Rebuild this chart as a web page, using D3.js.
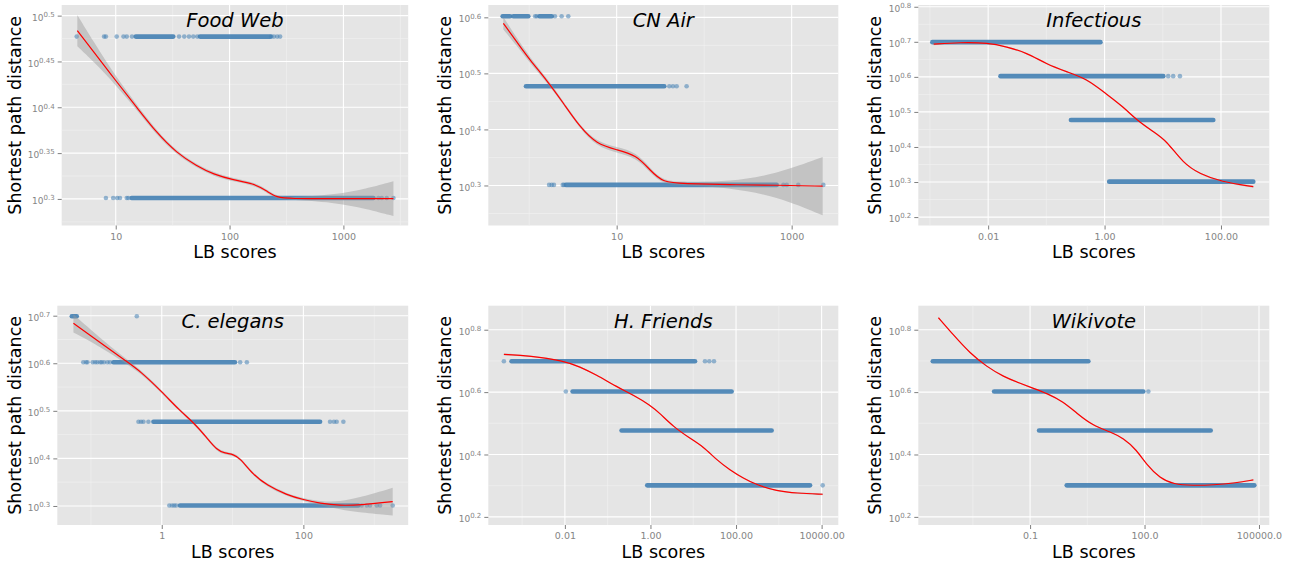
<!DOCTYPE html>
<html>
<head>
<meta charset="utf-8">
<script src="https://cdnjs.cloudflare.com/ajax/libs/d3/7.8.5/d3.min.js"></script>
<style>
  body { margin: 0; background: #fff; }
  svg { display: block; font-family: "DejaVu Sans", sans-serif; }
</style>
</head>
<body>
<svg id="chart"></svg>
<script>
const width = 1300;
const height = 565;

const panelTitles = ["Food Web", "CN Air", "Infectious", "C. elegans", "H. Friends", "Wikivote"];

// axis breaks: LB scores on x, exponent of 10 on y
const xTicks = [[10, 100, 1000], [10, 1000], [0.01, 1, 100], [1, 100], [0.01, 1, 100, 10000], [0.1, 100, 100000]];
const xTickDigits = [0, 0, 2, 0, 2, 1];
const yTicks = [
  [0.3, 0.35, 0.4, 0.45, 0.5],
  [0.3, 0.4, 0.5, 0.6],
  [0.2, 0.3, 0.4, 0.5, 0.6, 0.7, 0.8],
  [0.3, 0.4, 0.5, 0.6, 0.7],
  [0.2, 0.4, 0.6, 0.8],
  [0.2, 0.4, 0.6, 0.8]
];
// visible ranges, as log10 of the value
const xRanges = [[0.5255, 3.569], [-0.467, 3.533], [-3.2, 2.83], [-1.475, 3.48], [-3.79, 4.39], [-3.93, 5.27]];
const yRanges = [[0.271, 0.5116], [0.2286, 0.622], [0.176, 0.805], [0.26, 0.721], [0.174, 0.877], [0.174, 0.877]];

// dense runs of points: [distance, first LB score, last LB score]; single points: [distance, LB score]
const foodWebRuns = [[3, 15, 32], [3, 55, 228], [2, 13.8, 1836]];
const foodWebDots = [[3, 4.54], [3, 7.9], [3, 8.2], [3, 10.2], [3, 11.7], [3, 12.5], [3, 13.9], [3, 36], [3, 40], [3, 44],
  [3, 48], [3, 52], [3, 233], [3, 245], [3, 262], [3, 278],
  [2, 8.2], [2, 9.5], [2, 10.3], [2, 10.9], [2, 12.5], [2, 12.9], [2, 2028], [2, 2173], [2, 2400], [2, 2750]];

const cnAirRuns = [[4, 0.498, 0.604], [4, 0.659, 0.978], [4, 1.31, 1.81], [3, 0.92, 35], [2, 2.63, 674]];
const cnAirDots = [[4, 1.17], [4, 1.22], [4, 1.97], [4, 2.35], [4, 2.8], [3, 40], [3, 44], [3, 48.5], [3, 63],
  [2, 1.69], [2, 1.81], [2, 1.92], [2, 2.42], [2, 2.5], [2, 804], [2, 879], [2, 1191], [2, 2300]];

const infectiousRuns = [[5, 0.0011, 0.85], [4, 0.0163, 10.2], [3, 0.264, 73.8], [2, 1.2, 359]];
const infectiousDots = [[4, 12.4], [4, 15.1], [4, 19.7]];

const elegansRuns = [[5, 0.0537, 0.063], [4, 0.208, 10.8], [3, 0.763, 172], [2, 1.81, 597]];
const elegansDots = [[5, 0.444], [4, 0.078], [4, 0.0855], [4, 0.0893], [4, 0.106], [4, 0.115], [4, 0.123], [4, 0.135],
  [4, 0.142], [4, 0.153], [4, 0.171], [4, 0.186], [4, 12.8], [4, 15.9],
  [3, 0.469], [3, 0.51], [3, 0.551], [3, 0.648], [3, 238], [3, 270], [3, 295], [3, 367],
  [2, 1.28], [2, 1.4], [2, 1.5], [2, 1.6], [2, 666], [2, 784], [2, 872], [2, 1084], [2, 1209], [2, 1824]];

const friendsRuns = [[5, 0.000566, 11], [4, 0.0151, 78.9], [3, 0.211, 679], [2, 0.841, 5360]];
const friendsDots = [[5, 0.000375], [5, 18.8], [5, 23.7], [5, 30.5], [4, 0.0105], [2, 10590]];

const wikivoteRuns = [[5, 0.000282, 3.37], [4, 0.0114, 93], [3, 0.172, 5420], [2, 0.913, 75500]];
const wikivoteDots = [[4, 126]];

// loess fits: LB score, fitted exponent of 10, half width of the grey band (in exponent)
const foodWebFitX = [4.6, 6.37, 10, 15.3, 22.9, 34.4, 51.5, 72.1, 108, 162, 212, 260, 340, 817, 1603, 2750];
const foodWebFitY = [0.4837, 0.4609, 0.429, 0.4, 0.3721, 0.35, 0.3359, 0.3268, 0.3207, 0.317, 0.3087, 0.3014, 0.3003, 0.3003, 0.3003, 0.3003];
const foodWebFitSE = [0.017, 0.011, 0.0045, 0.003, 0.0025, 0.002, 0.002, 0.002, 0.0018, 0.0018, 0.0018, 0.0015, 0.0012, 0.004, 0.011, 0.019];

const cnAirFitX = [0.507, 0.72, 1.02, 1.585, 2.46, 3.81, 5.91, 10, 16.9, 24, 34.1, 57.8, 197, 674, 2260];
const cnAirFitY = [0.5893, 0.5565, 0.5238, 0.4881, 0.447, 0.404, 0.3738, 0.3637, 0.3542, 0.3274, 0.3048, 0.3036, 0.3012, 0.3006, 0.2988];
const cnAirFitSE = [0.011, 0.007, 0.005, 0.004, 0.003, 0.003, 0.004, 0.005, 0.005, 0.004, 0.003, 0.003, 0.005, 0.02, 0.052];

const infectiousFitX = [0.00116, 0.00326, 0.01, 0.0207, 0.0456, 0.1007, 0.222, 0.49, 1.04, 2.09, 3.55, 6.87, 11.6, 22.5, 43.5, 100, 359];
const infectiousFitY = [0.6935, 0.6983, 0.6973, 0.6859, 0.6688, 0.6365, 0.6146, 0.5947, 0.5529, 0.5148, 0.4768, 0.4435, 0.4179, 0.3532, 0.3228, 0.3009, 0.2867];
const infectiousFitSE = [0.003, 0.002, 0.002, 0.002, 0.002, 0.002, 0.002, 0.002, 0.002, 0.002, 0.002, 0.002, 0.002, 0.002, 0.002, 0.002, 0.003];

const elegansFitX = [0.0566, 0.1347, 0.3206, 0.494, 1, 1.815, 2.8, 4.32, 5.98, 7.83, 10.3, 12.8, 19.7, 30.4, 58.2, 100, 172, 329, 631, 1824];
const elegansFitY = [0.6839, 0.644, 0.6033, 0.5837, 0.5403, 0.4997, 0.4758, 0.4436, 0.4177, 0.4107, 0.4086, 0.4002, 0.3651, 0.3441, 0.3231, 0.3133, 0.3056, 0.3007, 0.3021, 0.3091];
const elegansFitSE = [0.019, 0.009, 0.005, 0.004, 0.003, 0.003, 0.003, 0.003, 0.003, 0.003, 0.003, 0.003, 0.003, 0.003, 0.003, 0.003, 0.004, 0.008, 0.016, 0.029];

const friendsFitX = [0.000375, 0.00152, 0.00914, 0.0224, 0.055, 0.161, 0.396, 0.97, 1.66, 3.41, 8.37, 17.2, 35.2, 72.1, 148, 303, 890, 2612, 10590];
const friendsFitY = [0.721, 0.7167, 0.7007, 0.6815, 0.6548, 0.6174, 0.5908, 0.5587, 0.532, 0.4893, 0.452, 0.4253, 0.3826, 0.3505, 0.3239, 0.3025, 0.2833, 0.2758, 0.2726];
const friendsFitSE = [0.003, 0.002, 0.002, 0.002, 0.002, 0.002, 0.002, 0.002, 0.002, 0.002, 0.002, 0.002, 0.002, 0.002, 0.002, 0.002, 0.002, 0.002, 0.003];

const wikivoteFitX = [0.000396, 0.00098, 0.00268, 0.00733, 0.02, 0.0547, 0.1223, 0.2733, 0.747, 1.67, 4.56, 12.5, 27.9, 62.3, 114, 255, 569, 1901, 6353, 21280, 71100];
const wikivoteFitY = [0.8384, 0.7829, 0.7242, 0.6815, 0.6495, 0.6281, 0.6121, 0.5961, 0.5694, 0.532, 0.4915, 0.4733, 0.452, 0.4146, 0.3666, 0.3239, 0.3046, 0.3004, 0.3025, 0.3078, 0.3185];
const wikivoteFitSE = wikivoteFitX.map(() => 0.002);

// panel boxes on the page
const boxes = [
  {left: 61.7, right: 408.2, top: 5, bottom: 225.5, cell: 0},
  {left: 488.3, right: 838.3, top: 5, bottom: 225.5, cell: 430},
  {left: 918.3, right: 1269.3, top: 5, bottom: 225.5, cell: 860},
  {left: 57.3, right: 408.2, top: 305.7, bottom: 525, cell: 0},
  {left: 488.3, right: 838.3, top: 305.7, bottom: 525, cell: 430},
  {left: 918.3, right: 1269.3, top: 305.7, bottom: 525, cell: 860}
];

const runs = [foodWebRuns, cnAirRuns, infectiousRuns, elegansRuns, friendsRuns, wikivoteRuns];
const dots = [foodWebDots, cnAirDots, infectiousDots, elegansDots, friendsDots, wikivoteDots];
const fits = [
  [foodWebFitX, foodWebFitY, foodWebFitSE],
  [cnAirFitX, cnAirFitY, cnAirFitSE],
  [infectiousFitX, infectiousFitY, infectiousFitSE],
  [elegansFitX, elegansFitY, elegansFitSE],
  [friendsFitX, friendsFitY, friendsFitSE],
  [wikivoteFitX, wikivoteFitY, wikivoteFitSE]
];

const svg = d3.select("#chart")
  .attr("width", width)
  .attr("height", height);

const defs = svg.append("defs");

panelTitles.forEach((title, i) => {
  const b = boxes[i];
  const x = d3.scaleLog()
    .domain(xRanges[i].map(e => Math.pow(10, e)))
    .range([b.left, b.right]);
  const y = d3.scaleLog()
    .domain(yRanges[i].map(e => Math.pow(10, e)))
    .range([b.bottom, b.top]);

  defs.append("clipPath").attr("id", "clip" + i)
    .append("rect")
    .attr("x", b.left).attr("y", b.top)
    .attr("width", b.right - b.left).attr("height", b.bottom - b.top);

  const g = svg.append("g");

  // panel background
  g.append("rect")
    .attr("x", b.left).attr("y", b.top)
    .attr("width", b.right - b.left).attr("height", b.bottom - b.top)
    .attr("fill", "#E5E5E5");

  // minor grid halfway between breaks (in log space)
  const lx = xTicks[i].map(Math.log10);
  const sx = lx[1] - lx[0];
  const minorX = [];
  for (let e = lx[0] - sx / 2; e <= xRanges[i][1]; e += sx) {
    if (e >= xRanges[i][0]) minorX.push(Math.pow(10, e));
  }
  const ly = yTicks[i];
  const sy = ly[1] - ly[0];
  const minorY = [];
  for (let e = ly[0] - sy / 2; e <= yRanges[i][1]; e += sy) {
    if (e >= yRanges[i][0]) minorY.push(Math.pow(10, e));
  }

  g.selectAll(".minx").data(minorX).enter().append("line")
    .attr("x1", d => x(d)).attr("x2", d => x(d))
    .attr("y1", b.top).attr("y2", b.bottom)
    .attr("stroke", "#F2F2F2").attr("stroke-width", 0.6);
  g.selectAll(".miny").data(minorY).enter().append("line")
    .attr("x1", b.left).attr("x2", b.right)
    .attr("y1", d => y(d)).attr("y2", d => y(d))
    .attr("stroke", "#F2F2F2").attr("stroke-width", 0.6);

  g.selectAll(".majx").data(xTicks[i]).enter().append("line")
    .attr("x1", d => x(d)).attr("x2", d => x(d))
    .attr("y1", b.top).attr("y2", b.bottom)
    .attr("stroke", "#FFFFFF").attr("stroke-width", 1.1);
  g.selectAll(".majy").data(yTicks[i]).enter().append("line")
    .attr("x1", b.left).attr("x2", b.right)
    .attr("y1", d => y(Math.pow(10, d))).attr("y2", d => y(Math.pow(10, d)))
    .attr("stroke", "#FFFFFF").attr("stroke-width", 1.1);

  const plot = g.append("g").attr("clip-path", `url(#clip${i})`);

  // points
  plot.selectAll(".run").data(runs[i]).enter().append("line")
    .attr("x1", d => x(d[1])).attr("x2", d => x(d[2]))
    .attr("y1", d => y(d[0])).attr("y2", d => y(d[0]))
    .attr("stroke", "steelblue")
    .attr("stroke-width", 4.6)
    .attr("stroke-linecap", "round")
    .attr("stroke-opacity", 0.92);
  plot.selectAll(".dot").data(dots[i]).enter().append("circle")
    .attr("cx", d => x(d[1]))
    .attr("cy", d => y(d[0]))
    .attr("r", 2.3)
    .attr("fill", "steelblue")
    .attr("fill-opacity", 0.55);

  // smoother with its band
  const fit = fits[i][0].map((v, k) => ({lb: v, e: fits[i][1][k], se: fits[i][2][k]}));
  const band = d3.area()
    .x(d => x(d.lb))
    .y0(d => y(Math.pow(10, d.e - d.se)))
    .y1(d => y(Math.pow(10, d.e + d.se)))
    .curve(d3.curveBasis);
  const line = d3.line()
    .x(d => x(d.lb))
    .y(d => y(Math.pow(10, d.e)))
    .curve(d3.curveBasis);

  plot.append("path").datum(fit)
    .attr("d", band)
    .attr("fill", "#999999")
    .attr("fill-opacity", 0.45);
  plot.append("path").datum(fit)
    .attr("d", line)
    .attr("fill", "none")
    .attr("stroke", "red")
    .attr("stroke-width", 1.2);

  // axes
  const xAxis = d3.axisBottom(x)
    .tickValues(xTicks[i])
    .tickFormat(d3.format(`.${xTickDigits[i]}f`))
    .tickSize(4)
    .tickPadding(3.5);
  g.append("g")
    .attr("transform", `translate(0, ${b.bottom})`)
    .call(xAxis)
    .call(a => a.select(".domain").remove())
    .call(a => a.selectAll(".tick line").attr("stroke", "#7F7F7F"))
    .call(a => a.selectAll(".tick text")
      .attr("fill", "#858585")
      .attr("font-family", "DejaVu Sans")
      .attr("font-size", "9.5px"));

  const yAxis = d3.axisLeft(y)
    .tickValues(yTicks[i].map(e => Math.pow(10, e)))
    .tickSize(4)
    .tickPadding(3);
  const ya = g.append("g")
    .attr("transform", `translate(${b.left}, 0)`)
    .call(yAxis);
  ya.select(".domain").remove();
  ya.selectAll(".tick line").attr("stroke", "#7F7F7F");
  ya.selectAll(".tick text")
    .attr("fill", "#858585")
    .attr("font-family", "DejaVu Sans")
    .attr("dy", 4.6)
    .text(null)
    .each(function(d, k) {
      const t = d3.select(this);
      t.append("tspan").attr("font-size", "9px").text("10");
      t.append("tspan").attr("font-size", "7px").attr("dy", -3.8).text(String(yTicks[i][k]));
    });

  // titles
  g.append("text")
    .attr("x", (b.left + b.right) / 2)
    .attr("y", b.top + 21.8)
    .attr("text-anchor", "middle")
    .attr("font-style", "italic")
    .attr("font-size", "19.5px")
    .attr("fill", "black")
    .text(title);

  g.append("text")
    .attr("x", (b.left + b.right) / 2)
    .attr("y", b.bottom + 32.5)
    .attr("text-anchor", "middle")
    .attr("font-size", "17.5px")
    .attr("fill", "black")
    .text("LB scores");

  g.append("text")
    .attr("transform", `translate(${b.cell + 21}, ${(b.top + b.bottom) / 2}) rotate(-90)`)
    .attr("text-anchor", "middle")
    .attr("font-size", "17.5px")
    .attr("fill", "black")
    .text("Shortest path distance");
});
</script>
</body>
</html>
